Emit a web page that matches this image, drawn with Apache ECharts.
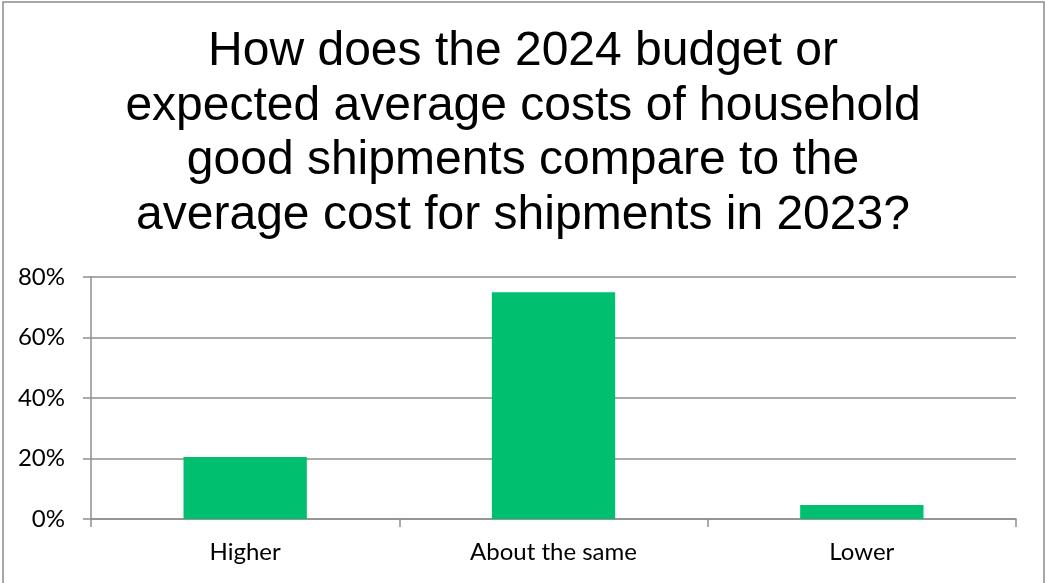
<!DOCTYPE html>
<html>
<head>
<meta charset="utf-8">
<style>
  html, body { margin: 0; padding: 0; background: #ffffff; }
  #chart { width: 1045px; height: 583px; }
</style>
<script src="https://cdn.jsdelivr.net/npm/echarts@6/dist/echarts.min.js"></script>
</head>
<body>
<div id="chart"></div>
<script>
// Survey answers and share of respondents (%)
const categories = ['Higher', 'About the same', 'Lower'];
const shares = [20.5, 75.0, 4.6];
const yTicks = { min: 0, max: 80, interval: 20 };
const titleText = 'How does the 2024 budget or\nexpected average costs of household\ngood shipments compare to the\naverage cost for shipments in 2023?';

const axisGrey = '#8e8e8e';
const chart = echarts.init(document.getElementById('chart'));
chart.setOption({
  animation: false,
  backgroundColor: '#ffffff',
  graphic: [
    {
      type: 'rect',
      shape: { x: 3, y: 2, width: 1041, height: 620 },
      style: { fill: 'none', stroke: '#8a8a8a', lineWidth: 1.5 },
      silent: true
    },
    {
      type: 'text',
      x: 523,
      y: 25,
      silent: true,
      style: {
        text: titleText,
        align: 'center',
        verticalAlign: 'top',
        fontFamily: 'Liberation Sans',
        fontSize: 48,
        lineHeight: 54.5,
        fill: '#000000'
      }
    }
  ],
  grid: { left: 91, right: 29, top: 277, bottom: 64, containLabel: false },
  xAxis: {
    type: 'category',
    data: categories,
    axisLine: { lineStyle: { color: axisGrey, width: 1.5 } },
    axisTick: { show: true, length: 8, alignWithLabel: false, lineStyle: { color: axisGrey, width: 1.5 } },
    axisLabel: { margin: 21, fontFamily: 'Lato', fontSize: 24, color: '#000000' }
  },
  yAxis: {
    type: 'value',
    min: yTicks.min,
    max: yTicks.max,
    interval: yTicks.interval,
    axisLine: { show: true, lineStyle: { color: axisGrey, width: 1.5 } },
    axisTick: { show: true, length: 8, lineStyle: { color: axisGrey, width: 1.5 } },
    splitLine: { show: true, lineStyle: { color: axisGrey, width: 1.5 } },
    axisLabel: {
      margin: 26,
      fontFamily: 'Lato',
      fontSize: 24,
      color: '#000000',
      formatter: v => v + '%'
    }
  },
  series: [{
    type: 'bar',
    data: shares,
    barWidth: '40%',
    itemStyle: { color: '#00bf6f' }
  }]
});
</script>
</body>
</html>
